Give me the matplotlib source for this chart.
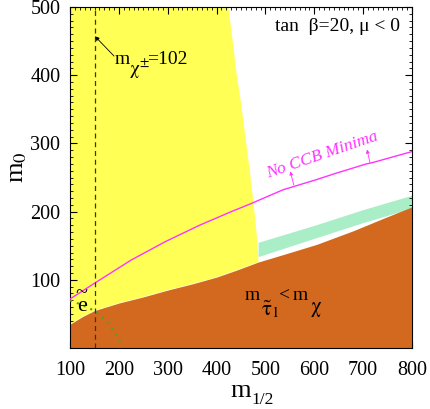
import numpy as np
import matplotlib
matplotlib.use("Agg")
import matplotlib.pyplot as plt
from matplotlib.ticker import MultipleLocator

plt.rcParams['font.family'] = ['Liberation Serif', 'DejaVu Serif']
plt.rcParams['mathtext.fontset'] = 'custom'
plt.rcParams['mathtext.rm'] = 'STIXGeneral'
plt.rcParams['mathtext.it'] = 'STIXGeneral:italic'

# stau LSP (brown) upper boundary
stau_x = [100, 125, 150, 200, 250, 300, 350, 400, 440, 485, 550, 605, 680, 741, 800]
stau_y = [35, 46, 55, 66, 75, 85, 94, 104, 114, 126, 140, 152, 172, 190, 207]

# b -> s gamma excluded (yellow) right edge
bsg_y = [500, 450, 402, 360, 315, 265, 217, 175, 139, 126]
bsg_x = [424, 433, 441, 450, 458, 467, 475, 481, 485, 486]

# cosmological region (green strip)
cdm_x = [485, 605, 700, 800]
cdm_top = [155, 181, 203, 224]
cdm_bot = [134, 162, 184, 205]

# no CCB minima line
ccb_x = [100, 150, 225, 295, 365, 430, 468, 536, 605, 639, 707, 720, 800]
ccb_y = [72, 95, 129, 156, 180, 200, 211, 232, 247, 255, 270, 272, 288]

# selectron bound (dotted)
sel_x = [100, 125, 152, 175, 192, 208]
sel_y = [70, 63, 54, 39, 22, 3]

# chargino mass line
chi_x = [151, 151]
chi_y = [0, 500]

yellow = '#FFFF55'
brown = '#D2691E'
green = '#AAEEC8'
magenta = '#FF33FF'

fig = plt.figure(figsize=(4.30, 4.09), dpi=100)
ax = fig.add_axes([0.163, 0.149, 0.795, 0.834])


def label(x, y, parts, **kw):
    # pieces placed with pixel offsets from a baseline point
    for s, dx, dy, fs in parts:
        ax.annotate(s, (x, y), xytext=(dx * 0.72, dy * 0.72),
                    textcoords='offset points', fontsize=fs,
                    ha='left', va='baseline', **kw)


# yellow region: above stau boundary, left of edge
low_x = [x for x in stau_x if x < 485]
low_y = [y for x, y in zip(stau_x, stau_y) if x < 485]
ys_x = low_x + bsg_x[::-1] + [100]
ys_y = low_y + bsg_y[::-1] + [500]
ax.fill(ys_x, ys_y, color=yellow, lw=0, zorder=1)

ax.fill_between(cdm_x, cdm_bot, cdm_top, color=green, lw=0, zorder=1)
ax.fill_between(stau_x, 0, stau_y, color=brown, lw=0, zorder=2)

ax.plot(ccb_x, ccb_y, color=magenta, lw=1.0, zorder=3)
ax.plot(sel_x, sel_y, color='#55A020', lw=1.5, ls=(0, (1, 2.5)), zorder=3)
ax.plot(chi_x, chi_y, color='#333333', lw=0.9, ls=(0, (4, 3)), zorder=3)

# chargino label + arrow
ax.annotate('', xy=(151, 457), xytext=(190, 428),
            arrowprops=dict(arrowstyle='-|>', color='black', lw=0.6,
                            mutation_scale=6, shrinkA=0, shrinkB=0))
label(192, 417, [('m', 0, 0, 14), (r'$\mathrm{\chi}^{\pm}$', 14, -11, 14),
                 ('=102', 32, 0, 14)])

for (x0, y0), (x1, y1) in [((558, 239), (551, 259)), ((714, 272), (708, 291))]:
    ax.annotate('', xy=(x1, y1), xytext=(x0, y0),
                arrowprops=dict(arrowstyle='-|>', color=magenta, lw=0.6,
                                mutation_scale=5, shrinkA=0, shrinkB=0))

ax.text(617, 283, 'No CCB Minima', color=magenta, fontsize=12.5,
        style='italic', rotation=19, ha='center', va='center')
ax.text(776, 471, 'tan  β=20, μ < 0', fontsize=14, ha='right', va='center')

# stau LSP label
label(458, 70, [('m', 0, 0, 14), (r'$\tilde{\mathrm{\tau}}_{1}$', 16, -15, 15),
                ('<', 34, 0, 14), ('m', 48, 0, 14),
                (r'$\mathrm{\chi}$', 65, -12, 15)])

# selectron label
ax.text(124, 70, '~\ne', fontsize=16, ha='center', va='center', linespacing=0.55)

ax.set_xlim(100, 800)
ax.set_ylim(0, 500)
ax.set_xticks([100, 200, 300, 400, 500, 600, 700, 800])
ax.set_yticks([100, 200, 300, 400, 500])
ax.xaxis.set_minor_locator(MultipleLocator(10))
ax.yaxis.set_minor_locator(MultipleLocator(10))
ax.tick_params(which='both', direction='in', top=True, right=True, labelsize=14.5)
ax.tick_params(which='major', length=5, width=0.8)
ax.tick_params(which='minor', length=2.5, width=0.6)
ax.tick_params(axis='x', pad=9)
ax.tick_params(axis='y', pad=7)
for s in ax.spines.values():
    s.set_linewidth(0.8)

# axis labels (m with a large, lowered subscript)
fig.text(230 / 430, 1 - 397 / 409, 'm', fontsize=19, va='baseline', ha='left')
fig.text(251 / 430, 1 - 404 / 409, '1/2', fontsize=12.5, va='baseline', ha='left')
ax.set_ylabel(r'm$_0$', fontsize=19, labelpad=1, y=0.53)

fig.savefig('out.png', dpi=100)
